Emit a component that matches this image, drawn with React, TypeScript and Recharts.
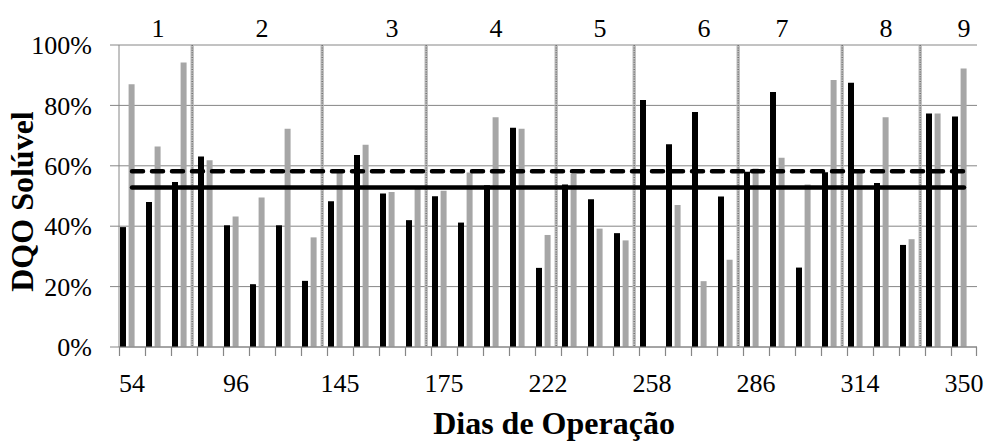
import React from 'react';
import {
  ComposedChart,
  Bar,
  Line,
  XAxis,
  YAxis,
  CartesianGrid,
} from 'recharts';

// dias de operação (só um a cada quatro aparece no eixo)
const days = [
  54, 61, 68, 82, 96, 103, 117, 131, 145, 152, 159, 166, 175, 187, 199, 210,
  222, 231, 240, 249, 258, 265, 272, 279, 286, 293, 300, 307, 314, 323, 332,
  341, 350,
];

const serieBlack = [
  39.7, 48.0, 54.6, 63.1, 40.3, 20.8, 40.3, 21.9, 48.3, 63.6, 50.8, 42.0,
  49.9, 41.2, 53.6, 72.6, 26.2, 53.8, 48.9, 37.7, 81.8, 67.1, 77.8, 49.8,
  58.0, 84.4, 26.3, 57.9, 87.5, 54.3, 33.8, 77.3, 76.3,
];

const serieGray = [
  87.0, 66.4, 94.2, 61.8, 43.2, 49.5, 72.3, 36.3, 58.0, 67.0, 51.3, 52.5,
  51.7, 57.8, 76.1, 72.3, 37.1, 57.3, 39.2, 35.3, null, 47.0, 21.8, 28.9,
  59.1, 62.7, 53.8, 88.4, 57.7, 76.1, 35.7, 77.3, 92.2,
];

// divisórias entre fases (barra cheia = 100%)
const separadores = [
  null, null, 100, null, null, null, null, 100, null, null, null, 100, null,
  null, null, null, 100, null, null, 100, null, null, null, 100, null, null,
  null, 100, null, null, 100, null, null,
];

// rótulos das fases, por categoria
const fases = [
  '', '1', '', '', '', '2', '', '', '', '', '3', '', '', '', '4', '', '', '',
  '5', '', '', '', '6', '', '', '7', '', '', '', '8', '', '', '9',
];

const mediaBlack = 52.8;
const mediaGray = 58.2;

const yTicks = [0, 20, 40, 60, 80, 100];

const data = days.map((d, i) => ({
  day: d,
  black: serieBlack[i],
  gray: serieGray[i],
  sep: separadores[i],
  mediaBlack,
  mediaGray,
}));

const W = 987;
const H = 441;
const TOP = 45;
const X_AXIS_H = 94;
const Y_AXIS_W = 119;
const RIGHT = 10;
const PLOT_H = H - TOP - X_AXIS_H;
const BAND = (W - Y_AXIS_W - RIGHT) / days.length;
const FONT = '"Liberation Serif", "Times New Roman", serif';
const GRID = '#868686';

function BottomTick(props: any) {
  const { x, y, index } = props;
  const left = Math.round(x - BAND / 2) + 0.5;
  const right = Math.round(x + BAND / 2) - 0.5;
  const fase = fases[index];
  return (
    <g>
      <line x1={left} x2={left} y1={y} y2={y + 9} stroke={GRID} strokeWidth={1.2} />
      {index === days.length - 1 && (
        <line x1={right} x2={right} y1={y} y2={y + 9} stroke={GRID} strokeWidth={1.2} />
      )}
      {index % 4 === 0 && (
        <text x={x} y={y + 44.5} textAnchor="middle" fontSize={26} fontFamily={FONT} fill="#000">
          {props.payload.value}
        </text>
      )}
      {fase && (
        <text x={x} y={y - PLOT_H - 8.5} textAnchor="middle" fontSize={26} fontFamily={FONT} fill="#000">
          {fase}
        </text>
      )}
    </g>
  );
}

function SepShape(props: any) {
  const { x, y, width, height } = props;
  if (!height) return <g />;
  const cx = x + width / 2;
  return (
    <g>
      <rect x={cx - 1.7} y={y} width={3.4} height={height} fill="#bcbcbc" />
      <line x1={cx} x2={cx} y1={y} y2={y + height} stroke="#6b6b6b" strokeWidth={1.4} strokeDasharray="1 1.4" />
    </g>
  );
}

export default function App() {
  return (
    <div style={{ position: 'absolute', left: 0, top: 0, width: W, height: H, background: '#fff' }}>
      <ComposedChart
        width={W}
        height={H}
        data={data}
        margin={{ top: TOP, right: RIGHT, bottom: 0, left: 0 }}
        barSize={6}
        barGap={2.6}
      >
        <CartesianGrid vertical={false} stroke={GRID} />
        <XAxis
          dataKey="day"
          interval={0}
          height={X_AXIS_H}
          axisLine={{ stroke: GRID }}
          tickLine={false}
          tickSize={0}
          tickMargin={0}
          tick={<BottomTick />}
          label={{
            content: () => (
              <text x={554} y={434} textAnchor="middle" fontSize={32} fontWeight="bold" fontFamily={FONT} fill="#000">
                Dias de Operação
              </text>
            ),
          }}
        />
        <YAxis
          width={Y_AXIS_W}
          domain={[0, 100]}
          ticks={yTicks}
          tickFormatter={(v) => `${v}%`}
          axisLine={{ stroke: GRID }}
          tickLine={{ stroke: GRID }}
          tickSize={9}
          tickMargin={18}
          tick={{ fontSize: 26, fontFamily: FONT, fill: '#000' }}
          label={{
            content: () => (
              <text
                transform="translate(33, 201.5) rotate(-90)"
                textAnchor="middle"
                fontSize={32}
                fontWeight="bold"
                fontFamily={FONT}
                fill="#000"
              >
                DQO Solúvel
              </text>
            ),
          }}
        />
        <Bar dataKey="black" fill="#000000" isAnimationActive={false} />
        <Bar dataKey="gray" fill="#a6a6a6" isAnimationActive={false} />
        <Bar dataKey="sep" shape={<SepShape />} isAnimationActive={false} />
        <Line
          dataKey="mediaGray"
          stroke="#000"
          strokeWidth={4.5}
          strokeDasharray="11 9"
          strokeLinecap="round"
          dot={false}
          activeDot={false}
          isAnimationActive={false}
        />
        <Line
          dataKey="mediaBlack"
          stroke="#000"
          strokeWidth={4.5}
          strokeLinecap="round"
          dot={false}
          activeDot={false}
          isAnimationActive={false}
        />
      </ComposedChart>
    </div>
  );
}
